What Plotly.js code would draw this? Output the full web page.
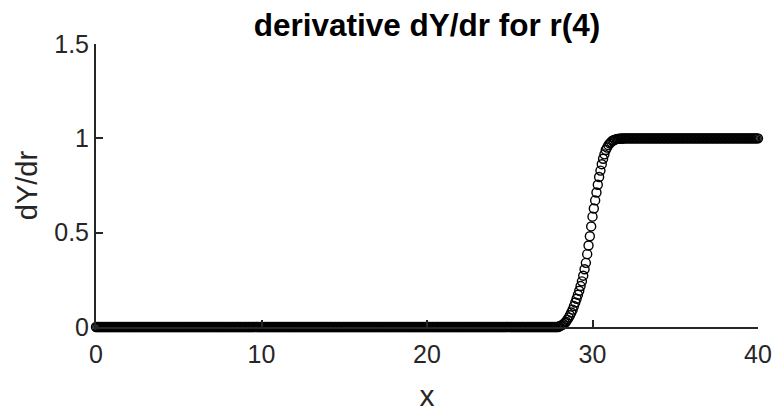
<!DOCTYPE html>
<html>
<head>
<meta charset="utf-8">
<script src="https://cdn.plot.ly/plotly-3.0.1.min.js"></script>
<style>html,body{margin:0;padding:0;background:#fff;}#chart{width:773px;height:412px;}</style>
</head>
<body>
<div id="chart"></div>
<script>
const sampleStep = 0.08;
// Low plateau: dY/dr = 0 from x=0 up to the transition
const lowPlateauRange = [0, 27.92];
const lowPlateauValue = 0;
// High plateau: dY/dr = 1 after the transition up to x=40
const highPlateauRange = [32.08, 40];
const highPlateauValue = 1;
// Transition region
const transX = [28.00,28.08,28.16,28.24,28.32,28.40,28.48,28.56,28.64,28.72,28.80,28.88,28.96,29.04,29.12,29.20,29.28,29.36,29.44,29.52,29.60,29.68,29.76,29.84,29.92,30.00,30.08,30.16,30.24,30.32,30.40,30.48,30.56,30.64,30.72,30.80,30.88,30.96,31.04,31.12,31.20,31.28,31.36,31.44,31.52,31.60,31.68,31.76,31.84,31.92,32.00];
const transY = [0.004,0.007,0.010,0.015,0.021,0.028,0.039,0.050,0.062,0.077,0.092,0.111,0.130,0.150,0.171,0.192,0.217,0.242,0.272,0.306,0.340,0.386,0.432,0.481,0.533,0.585,0.628,0.671,0.713,0.754,0.795,0.829,0.863,0.892,0.915,0.938,0.951,0.964,0.973,0.980,0.987,0.990,0.993,0.996,0.997,0.998,0.998,0.999,0.999,1.000,1.000];
const xTicks = [0, 10, 20, 30, 40];
const yTicks = [0, 0.5, 1, 1.5];
const yTickText = ['0', '0.5', '1', '1.5'];

const xs = [], ys = [];
function addPlateau(range, val) {
  const n = Math.round((range[1] - range[0]) / sampleStep);
  for (let i = 0; i <= n; i++) { xs.push(+(range[0] + i * sampleStep).toFixed(2)); ys.push(val); }
}
addPlateau(lowPlateauRange, lowPlateauValue);
for (let i = 0; i < transX.length; i++) { xs.push(transX[i]); ys.push(transY[i]); }
addPlateau(highPlateauRange, highPlateauValue);

const axisColor = '#262626';
const font = 'Liberation Sans, Arial, sans-serif';

const trace = {
  x: xs, y: ys, type: 'scatter', mode: 'markers', cliponaxis: false,
  marker: {symbol: 'circle-open', size: 9, color: '#000', line: {width: 1.4, color: '#000'}},
  hoverinfo: 'none'
};

const layout = {
  width: 773, height: 412,
  margin: {l: 96, r: 15, t: 44, b: 85},
  paper_bgcolor: '#fff', plot_bgcolor: '#fff',
  showlegend: false,
  title: {text: '<b>derivative dY/dr for r(4)</b>', font: {family: font, size: 31.5, color: '#000'},
          xref: 'paper', x: 0.5, xanchor: 'center', yref: 'container', y: 1 - 25/412, yanchor: 'middle'},
  xaxis: {
    range: [0, 40], tickvals: xTicks, ticktext: xTicks.map(String),
    showgrid: false, zeroline: false, showline: true, linecolor: axisColor, linewidth: 2,
    ticks: 'inside', ticklen: 7, tickwidth: 2, tickcolor: axisColor,
    tickfont: {family: font, size: 25, color: axisColor},
    ticklabeloverflow: 'allow', ticklabelstandoff: 4,
    title: {text: 'x', font: {family: font, size: 30, color: axisColor}, standoff: 20},
    mirror: false, automargin: false
  },
  yaxis: {
    range: [0, 1.5], tickvals: yTicks, ticktext: yTickText,
    showgrid: false, zeroline: false, showline: true, linecolor: axisColor, linewidth: 2,
    ticks: 'inside', ticklen: 7, tickwidth: 2, tickcolor: axisColor,
    tickfont: {family: font, size: 25, color: axisColor},
    ticklabeloverflow: 'allow',
    title: {text: 'dY/dr', font: {family: font, size: 29, color: axisColor}, standoff: 8},
    mirror: false, automargin: false
  }
};

Plotly.newPlot('chart', [trace], layout, {staticPlot: true, displayModeBar: false});
</script>
</body>
</html>
